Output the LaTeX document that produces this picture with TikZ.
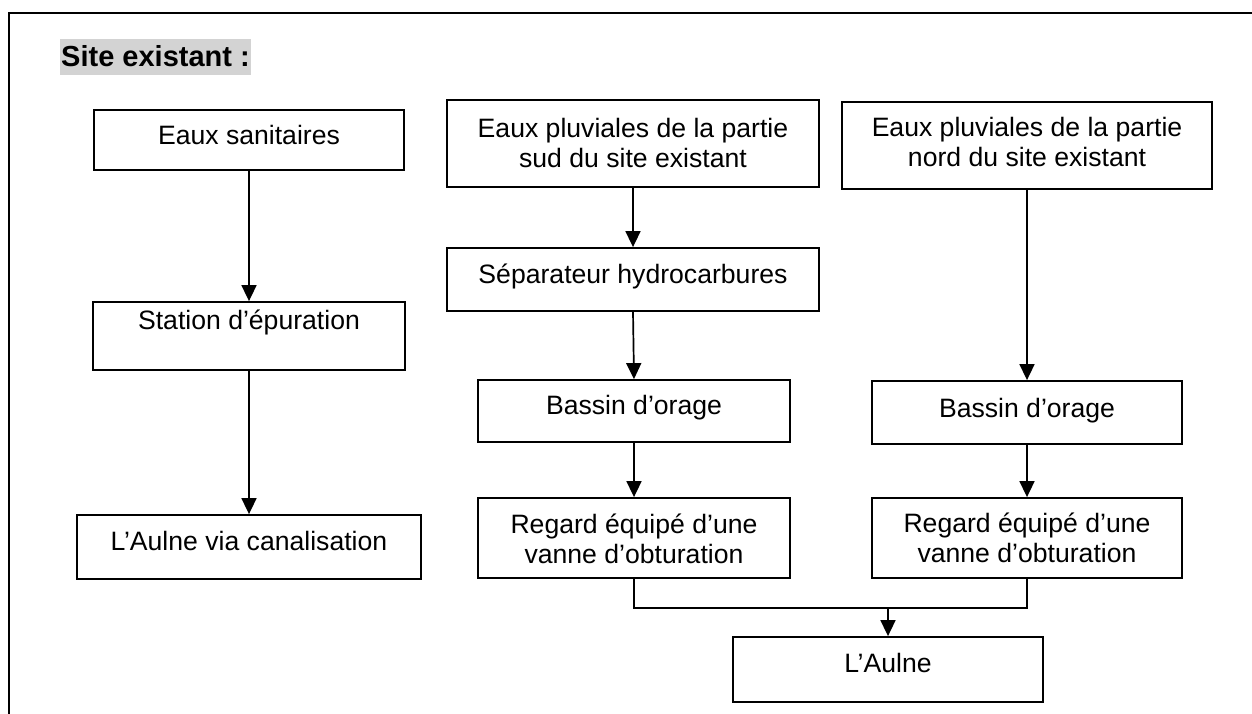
\documentclass[tikz,border=0pt]{standalone}
\usepackage{fontspec}
\setmainfont{Liberation Sans}
\usetikzlibrary{arrows.meta}
\definecolor{hl}{RGB}{211,211,211}
\newcommand{\bt}[2]{\raisebox{#1pt}[0pt][0pt]{\begin{tabular}[b]{@{}c@{}}#2\end{tabular}}}
\begin{document}
\begin{tikzpicture}[x=1pt,y=-1pt,
  bx/.style 2 args={draw, line width=1.8pt, inner sep=0pt,
    minimum width=#1pt, minimum height=#2pt,
    font=\fontsize{26.6}{30}\selectfont},
  ttlbox/.style={fill=hl, inner sep=0pt, minimum width=191pt, minimum height=36pt,
    font=\fontsize{29}{33}\selectfont\bfseries},
  arr/.style={-{Triangle[length=16pt,width=15pt]}, line width=1.7pt},
  joinline/.style={line width=1.2pt},
  frame/.style={line width=2.2pt}]
\useasboundingbox (0,0) rectangle (1252,714);
\draw[frame] (9,714) -- (9,13) -- (1252,13);
\node[ttlbox] (ttl) at (155.5,57) {\raisebox{-10pt}[0pt][0pt]{Site existant :}};

\node[bx={310}{60}] (san) at (249,140) {\bt{-5}{Eaux sanitaires}};
\node[bx={372}{87}] (sud) at (633,143.5) {\bt{-24.5}{Eaux pluviales de la partie\\sud du site existant}};
\node[bx={370}{87}] (nord) at (1027,145.5) {\bt{-21.5}{Eaux pluviales de la partie\\nord du site existant}};
\node[bx={372}{63}] (sep) at (633,279.5) {\bt{-3.5}{Séparateur hydrocarbures}};
\node[bx={312}{68}] (stat) at (249,336) {\bt{7}{Station d’épuration}};
\node[bx={312}{62}] (basL) at (634,411) {\bt{-3}{Bassin d’orage}};
\node[bx={310}{63}] (basR) at (1027,412.5) {\bt{-4.5}{Bassin d’orage}};
\node[bx={344}{64}] (canal) at (249,547) {\bt{-3}{L’Aulne via canalisation}};
\node[bx={312}{80}] (regL) at (634,538) {\bt{-25}{Regard équipé d’une\\vanne d’obturation}};
\node[bx={310}{80}] (regR) at (1027,538) {\bt{-24}{Regard équipé d’une\\vanne d’obturation}};
\node[bx={310}{65}] (aulne) at (888,669.5) {\bt{-2.5}{L’Aulne}};

\draw[arr] (san.south) -- (san.south |- stat.north);
\draw[arr] (stat.south) -- (stat.south |- canal.north);
\draw[arr] (sud.south) -- (sud.south |- sep.north);
\draw[arr] (sep.south) -- (basL.north);
\draw[arr] (basL.south) -- (basL.south |- regL.north);
\draw[arr] (nord.south) -- (nord.south |- basR.north);
\draw[arr] (basR.south) -- (basR.south |- regR.north);
\coordinate (j) at (aulne.north |- 0,608);
\draw[joinline] (regL.south) |- (j) -| (regR.south);
\draw[arr] (j) -- (aulne.north);
\end{tikzpicture}
\end{document}
